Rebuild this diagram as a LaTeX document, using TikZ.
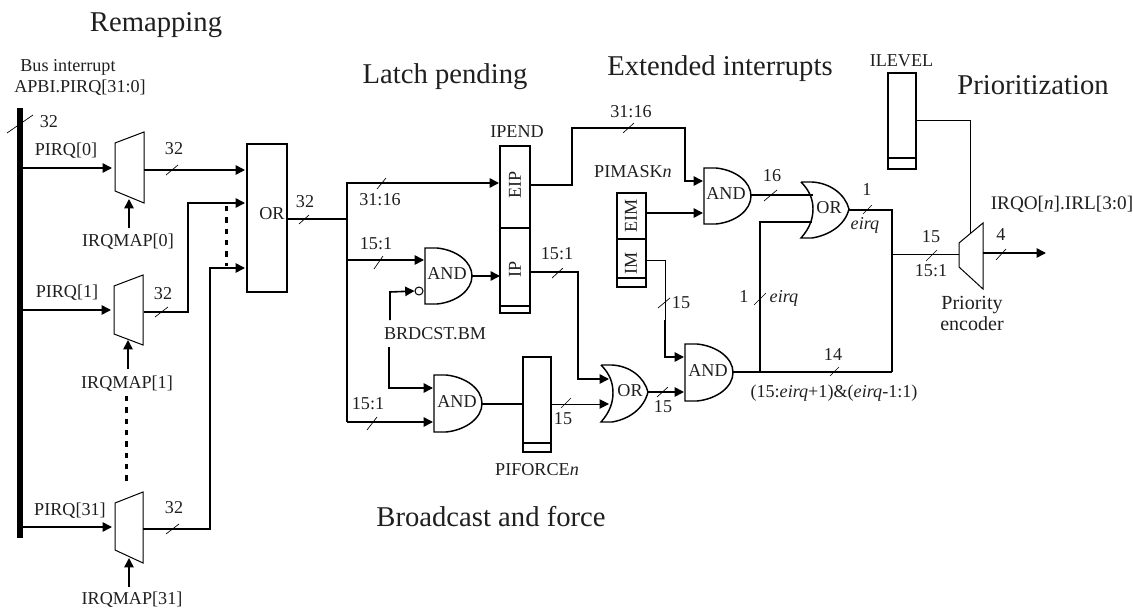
\documentclass[tikz,border=0pt]{standalone}
\usepackage{fontspec}
\setmainfont{Liberation Serif}
\usetikzlibrary{arrows.meta}
\tikzset{
 x=0.75pt,y=-0.75pt,
 wire/.style={line width=1.2pt,line join=miter},
 thin wire/.style={line width=0.75pt},
 arr/.style={-{Triangle[length=7pt,width=7pt]}},
 slash/.style={line width=0.5pt},
 lbl/.style={font=\fontsize{13.6pt}{15pt}\selectfont,inner sep=0pt,text=black!88},
 ital/.style={font=\fontsize{13.6pt}{15pt}\selectfont\itshape},
 big lbl/.style={font=\fontsize{15pt}{17pt}\selectfont},
 head/.style={font=\fontsize{21.5pt}{24pt}\selectfont,inner sep=0pt,text=black!88},
 bx/.style={draw,line width=1.1pt,inner sep=0pt,minimum width=0pt},
 mux/.style={draw,line width=0.75pt,fill=white},
 gate/.style={draw,line width=1.1pt,fill=white},
 dots/.style={line width=2pt,dash pattern=on 4pt off 4.5pt},
}
\begin{document}
\begin{tikzpicture}
\useasboundingbox (0,0) rectangle (1133,610);
% headings
\node[head] (h1) at (156,25) {Remapping};
\node[head] (h2) at (445,77) {Latch pending};
\node[head] (h3) at (720,69) {Extended interrupts};
\node[head] (h4) at (1033,85) {Prioritization};
\node[head] (h5) at (491,517) {Broadcast and force};
% bus
\node[draw=none,fill=black,minimum width=5.5*.75pt,minimum height=430*.75pt,inner sep=0pt] (bus) at (20,323) {};
\node[lbl] (l1) at (68,67) {Bus interrupt};
\node[lbl] (l2) at (80,88) {APBI.PIRQ[31:0]};
\draw[slash] (7,133) -- (33,115);
\node[lbl] (l3) at (49,122) {32};
% coordinates: muxes
\coordinate (m0tl) at (115,143); \coordinate (m0tr) at (144,132); \coordinate (m0br) at (144,203); \coordinate (m0bl) at (115,191);
\coordinate (m1tl) at (114,286); \coordinate (m1tr) at (143,275); \coordinate (m1br) at (143,345); \coordinate (m1bl) at (114,334);
\coordinate (m2tl) at (115,503); \coordinate (m2tr) at (143,492); \coordinate (m2br) at (143,563); \coordinate (m2bl) at (115,550);
\draw[mux] (m0tl)--(m0tr)--(m0br)--(m0bl)--cycle;
\draw[mux] (m1tl)--(m1tr)--(m1br)--(m1bl)--cycle;
\draw[mux] (m2tl)--(m2tr)--(m2br)--(m2bl)--cycle;
% OR box
\node[bx,minimum width=40*.75pt,minimum height=148*.75pt] (orbox) at (267,218) {};
\node[lbl] (orl) at (272,214) {OR};
% bus inputs
\coordinate (b0) at (22,168); \coordinate (m0i) at (112,168);
\coordinate (b1) at (22,310); \coordinate (m1i) at (111,310);
\coordinate (b2) at (22,527); \coordinate (m2i) at (112,527);
\draw[wire,arr] (b0)--(m0i);
\draw[wire,arr] (b1)--(m1i);
\draw[wire,arr] (b2)--(m2i);
\node[lbl] (p0) at (66,151) {PIRQ[0]};
\node[lbl] (p1) at (67,293) {PIRQ[1]};
\node[lbl] (p2) at (70,511) {PIRQ[31]};
% irqmap
\node[lbl] (q0) at (128,242) {IRQMAP[0]};
\node[lbl] (q1) at (127,384) {IRQMAP[1]};
\node[lbl] (q2) at (132,600) {IRQMAP[31]};
\coordinate (q0a) at (129,228); \coordinate (q0b) at (129,199);
\coordinate (q1a) at (128,369); \coordinate (q1b) at (128,340);
\coordinate (q2a) at (129,587); \coordinate (q2b) at (129,558);
\draw[wire,arr] (q0a)--(q0b);
\draw[wire,arr] (q1a)--(q1b);
\draw[wire,arr] (q2a)--(q2b);
\coordinate (d1) at (126.5,396); \coordinate (d2) at (126.5,485);
\draw[dots] (d1)--(d2);
% mux outs
\coordinate (o0) at (144,170); \coordinate (i0) at (245,170);
\coordinate (o1) at (144,312); \coordinate (i1) at (245,203);
\coordinate (o2) at (143,529); \coordinate (i2) at (245,268);
\draw[wire,arr] (o0)--(i0);
\draw[wire,arr] (o1)--(188,312)--(188,203)--(i1);
\draw[wire,arr] (o2)--(210,529)--(210,268)--(i2);
\coordinate (d3) at (226.5,206); \coordinate (d4) at (226.5,266);
\draw[dots] (d3)--(d4);
\draw[slash] (166,175)--(178,165); \node[lbl] (n1) at (174,149) {32};
\draw[slash] (155,317)--(168,307); \node[lbl] (n2) at (163,294) {32};
\draw[slash] (166,534)--(179,524); \node[lbl] (n3) at (174,508) {32};
% OR out bus
\coordinate (oro) at (287,219); \coordinate (tj) at (347,219);
\draw[wire] (oro)--(tj);
\draw[slash] (299,224)--(309,215); \node[lbl] (n4) at (305,202) {32};
% IPEND
\node[bx,minimum width=30*.75pt,minimum height=167*.75pt] (ipend) at (515,229.5) {};
\coordinate (ipa) at (500,228); \coordinate (ipb) at (530,228); \coordinate (ipc) at (500,306); \coordinate (ipd) at (530,306);
\draw[line width=1.1pt] (ipa)--(ipb) (ipc)--(ipd);
\node[lbl,rotate=90] (eip) at (515,185) {EIP};
\node[lbl,rotate=90] (ip) at (515,269) {IP};
\node[lbl] (ipl) at (517,132) {IPEND};
% AND1
\draw[gate] (425,248)--(437,248) .. controls (457,250) and (472,262) .. (472,276) .. controls (472,290) and (457,302) .. (437,304) -- (425,304)--cycle;
\node[lbl] (a1l) at (447,274) {AND};
% AND2
\draw[gate] (434,375)--(446,375) .. controls (466,377) and (482,389) .. (482,403.5) .. controls (482,418) and (466,430) .. (446,432) -- (434,432)--cycle;
\node[lbl] (a2l) at (457,402) {AND};
% AND3
\draw[gate] (704,168)--(716,168) .. controls (736,170) and (751,182) .. (751,196) .. controls (751,210) and (736,222) .. (716,224) -- (704,224)--cycle;
\node[lbl] (a3l) at (726,194) {AND};
% AND4
\draw[gate] (685,344)--(697,344) .. controls (717,346) and (733,358) .. (733,372.5) .. controls (733,387) and (717,399) .. (697,401) -- (685,401)--cycle;
\node[lbl] (a4l) at (708,371) {AND};
% OR2
\draw[gate] (601,365)--(612,365) .. controls (630,366) and (644,377) .. (648,392) .. controls (644,408) and (630,419) .. (612,422) -- (601,422) .. controls (610,412) and (613,402) .. (613,393) .. controls (613,383) and (610,374) .. (601,365);
\node[lbl] (o2l) at (630,391) {OR};
% OR1
\draw[gate] (801,182)--(812,182) .. controls (830,183) and (845,194) .. (849,209) .. controls (845,225) and (830,235) .. (812,238) -- (801,238) .. controls (810,228) and (813,218) .. (813,209) .. controls (813,200) and (810,191) .. (801,182);
\node[lbl] (o1l) at (829,208) {OR};
% wires to IPEND
\coordinate (t1) at (347,183); \coordinate (eipi) at (499,183);
\coordinate (t2) at (347,260); \coordinate (a1i) at (424,260);
\coordinate (t3) at (347,422); \coordinate (a2i) at (433,422);
\draw[wire,arr] (t3)--(t1)--(eipi);
\draw[wire,arr] (t2)--(a1i);
\draw[wire,arr] (t3)--(a2i);
\draw[slash] (377,189)--(386,178); \node[lbl] (n5) at (380,200) {31:16};
\draw[slash] (374,269)--(383,256); \node[lbl] (n6) at (376,244) {15:1};
\draw[slash] (367,430)--(377,417); \node[lbl] (n7) at (368,404) {15:1};
\coordinate (a1o) at (472,276); \coordinate (ipi) at (500,276);
\draw[wire,arr] (a1o)--(ipi);
% bubble + BRDCST
\node[draw,circle,line width=0.75pt,minimum size=8*.75pt,inner sep=0pt,fill=white] (bub) at (419,291) {};
\node[lbl] (br) at (435,334) {BRDCST.BM};
\coordinate (br1) at (390,320); \coordinate (br2) at (389,347); \coordinate (a2t) at (433,388);
\draw[wire,arr] (br1)--(390,292)--(bub.west);
\draw[wire,arr] (br2)--(389,388)--(a2t);
% PIFORCE
\node[bx,minimum width=28*.75pt,minimum height=95*.75pt] (pif) at (537,404.5) {};
\coordinate (pa) at (523,443); \coordinate (pb) at (551,443);
\draw[line width=1.1pt] (pa)--(pb);
\node[lbl] (pifl) at (537,470) {PIFORCE\textit{n}};
\coordinate (a2o) at (482,404);
\draw[wire] (a2o)--(pif.west|-a2o);
\coordinate (po) at (551,404); \coordinate (or2b) at (609,404);
\draw[thin wire,arr] (po)--(or2b);
\draw[slash] (561,408)--(571,398); \node[lbl] (n8) at (563,419) {15};
% IP out
\coordinate (ipo) at (530,272); \coordinate (or2t) at (609,379);
\draw[wire,arr] (ipo)--(578,272)--(578,379)--(or2t);
\draw[slash] (552,278)--(563,268); \node[lbl] (n9) at (557,254) {15:1};
% EIP out
\coordinate (eipo) at (530,185); \coordinate (a3t) at (703,181);
\draw[wire,arr] (eipo)--(572,185)--(572,128)--(685,128)--(685,181)--(a3t);
\draw[slash] (623,133)--(634,123); \node[lbl] (n10) at (631,112) {31:16};
% PIMASK
\node[lbl] (pim) at (633,172) {PIMASK\textit{n}};
\node[bx,minimum width=29*.75pt,minimum height=94*.75pt] (pm) at (631.5,240) {};
\coordinate (pma) at (617,239); \coordinate (pmb) at (646,239); \coordinate (pmc) at (617,278); \coordinate (pmd) at (646,278);
\draw[line width=1.1pt] (pma)--(pmb) (pmc)--(pmd);
\node[lbl,rotate=90] (eim) at (631,216) {EIM};
\node[lbl,rotate=90] (im) at (631,263) {IM};
\coordinate (eimo) at (646,213); \coordinate (a3b) at (703,213);
\draw[wire,arr] (eimo)--(a3b);
\coordinate (imo) at (646,260); \coordinate (a4t) at (684,357);
\draw[thin wire] (imo)--(665,260)--(665,320);
\draw[wire,arr] (665,320)--(665,357)--(a4t);
\draw[slash] (658,308)--(670,298); \node[lbl] (n11) at (681,303) {15};
% OR2 out
\coordinate (or2o) at (648,392); \coordinate (a4b) at (684,392);
\draw[wire,arr] (or2o)--(a4b);
\draw[slash] (657,397)--(668,387); \node[lbl] (n12) at (663,407) {15};
% AND3 out
\coordinate (a3o) at (751,195); \coordinate (or1a) at (813,195);
\draw[wire] (a3o)--(or1a);
\draw[slash] (764,201)--(777,190); \node[lbl] (n13) at (772,176) {16};
% OR1 out
\coordinate (or1o) at (849,210); \coordinate (jn) at (892,372);
\draw[wire] (or1o)--(892,210)--(jn);
\draw[slash] (863,214)--(872,205);
\node[lbl] (n14) at (867,190) {1};
\node[lbl,ital] (n15) at (865,225) {eirq};
% AND4 out
\coordinate (a4o) at (733,372); \coordinate (v1) at (760,372); \coordinate (or1b) at (812,222);
\draw[wire] (a4o)--(jn);
\draw[wire] (v1)--(760,222)--(or1b);
\draw[slash] (754,305)--(766,293);
\node[lbl] (n16) at (744,297) {1};
\node[lbl,ital] (n17) at (784,298) {eirq};
\draw[slash] (830,376)--(839,367);
\node[lbl] (n18) at (833,355) {14};
\node[lbl] (n19) at (834,393) {(15:\textit{eirq}+1)\&(\textit{eirq}-1:1)};
% Priority encoder
\coordinate (petl) at (959,243); \coordinate (petr) at (983,223); \coordinate (pebr) at (983,289); \coordinate (pebl) at (959,267);
\draw[mux] (petl)--(petr)--(pebr)--(pebl)--cycle;
\coordinate (pei) at (959,254); \coordinate (j2) at (892,254);
\draw[thin wire] (j2)--(pei);
\draw[slash] (926,261)--(937,250);
\node[lbl] (n20) at (931,237) {15};
\node[lbl] (n21) at (931,271) {15:1};
\coordinate (peo) at (983,253); \coordinate (irq) at (1046,253);
\draw[wire,arr] (peo)--(irq);
\draw[slash] (996,260)--(1006,249);
\node[lbl] (n22) at (1001,235) {4};
\node[lbl,big lbl] (pe1) at (972,305) {Priority};
\node[lbl,big lbl] (pe2) at (972,324) {encoder};
\node[lbl,font=\fontsize{14.4pt}{16pt}\selectfont] (irql) at (1062,204) {IRQO[\textit{n}].IRL[3:0]};
% ILEVEL
\node[bx,minimum width=28*.75pt,minimum height=96*.75pt] (ilv) at (902,121) {};
\coordinate (ilva) at (888,158); \coordinate (ilvb) at (916,158);
\draw[line width=1.1pt] (ilva)--(ilvb);
\node[lbl] (ill) at (901.5,61) {ILEVEL};
\coordinate (ilo) at (917,121); \coordinate (pet) at (970,233);
\draw[thin wire] (ilo)--(970,121)--(pet);
\end{tikzpicture}
\end{document}
